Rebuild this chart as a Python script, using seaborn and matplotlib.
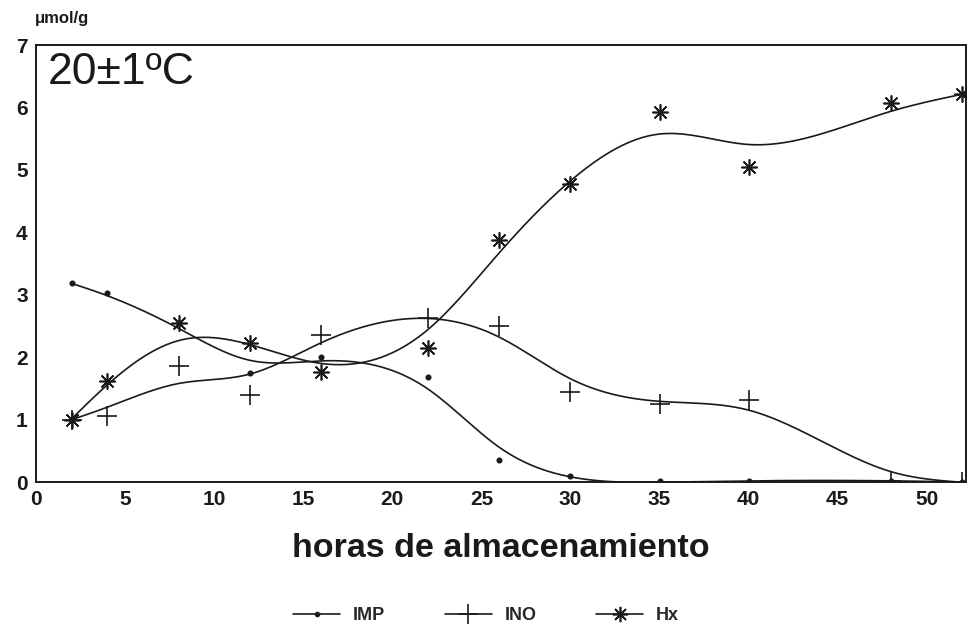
import numpy as np
import pandas as pd
import matplotlib
matplotlib.use("Agg")
import matplotlib.pyplot as plt
from matplotlib.lines import Line2D
import seaborn as sns

# Storage time (hours) and nucleotide catabolite content (umol/g)
horas = [2, 4, 8, 12, 16, 22, 26, 30, 35, 40, 48, 52]
imp = [3.18, 3.03, 2.55, 1.75, 2.01, 1.68, 0.36, 0.10, 0.02, 0.02, 0.02, 0.0]
ino = [1.00, 1.06, 1.86, 1.40, 2.36, 2.62, 2.50, 1.45, 1.25, 1.31, 0.02, 0.0]
hx = [1.00, 1.62, 2.55, 2.22, 1.77, 2.14, 3.88, 4.78, 5.93, 5.05, 6.07, 6.21]

series = ["IMP", "INO", "Hx"]
valores = {"IMP": imp, "INO": ino, "Hx": hx}
suavizado = {"IMP": 6.0, "INO": 9.0, "Hx": 14.0}


def smoothing_spline(x, y, lam, step=0.1, end_weight=15.0):
    """Penalised (cubic smoothing spline) fit evaluated on a fine grid,
    pinned more firmly at the first and last observations."""
    x = np.asarray(x, float)
    y = np.asarray(y, float)
    grid = np.arange(x.min(), x.max() + step / 2, step)
    n = grid.size
    w = np.zeros(n)
    target = np.zeros(n)
    idx = np.rint((x - x.min()) / step).astype(int)
    w[idx] = 1.0
    w[idx[0]] = w[idx[-1]] = end_weight
    target[idx] = y
    d2 = np.diff(np.eye(n), 2, axis=0)
    a = np.diag(w) + (lam / step**3) * d2.T @ d2
    z = np.linalg.solve(a, w * target)
    return grid, np.clip(z, 0, None)


puntos = pd.DataFrame(
    [(h, v, s) for s in series for h, v in zip(horas, valores[s])],
    columns=["horas", "valor", "serie"],
)
curvas = []
for s in series:
    gx, gy = smoothing_spline(horas, valores[s], suavizado[s])
    curvas.append(pd.DataFrame({"horas": gx, "valor": gy, "serie": s}))
curvas = pd.concat(curvas, ignore_index=True)

sns.set_style("white")
plt.rcParams["font.family"] = ["Liberation Sans", "DejaVu Sans"]

ink = "#1a1a1a"
fig = plt.figure(figsize=(9.78, 6.34), dpi=100)
ax = fig.add_axes([0.0368, 0.2397, 0.9509, 0.6893])

paleta = {s: ink for s in series}
sns.lineplot(data=curvas, x="horas", y="valor", hue="serie", palette=paleta,
             linewidth=1.2, legend=False, ax=ax, sort=True)

marcadores = {"IMP": "o", "INO": "+", "Hx": (8, 2, 0)}
tamanos = {"IMP": 10, "INO": 200, "Hx": 120}
for s in series:
    sub = puntos[puntos["serie"] == s]
    sns.scatterplot(data=sub, x="horas", y="valor", marker=marcadores[s],
                    s=tamanos[s], color=ink, edgecolor=ink,
                    linewidth=1.2, legend=False, ax=ax, zorder=3)

ax.set_xlim(0, 52.2)
ax.set_ylim(0, 7)
ax.set_xticks(range(0, 51, 5))
ax.set_yticks(range(0, 8))
for sp in ax.spines.values():
    sp.set_color(ink)
    sp.set_linewidth(1.4)
ax.tick_params(direction="in", length=7, width=1.2, color=ink,
               labelsize=15, labelcolor=ink, pad=6)
for lab in ax.get_xticklabels() + ax.get_yticklabels():
    lab.set_fontweight("bold")
ax.set_xlabel("horas de almacenamiento", fontsize=24.5, fontweight="bold",
              color=ink, labelpad=17)
ax.set_ylabel("")

ax.text(0.013, 0.985, "20±1ºC", transform=ax.transAxes, fontsize=32,
        ha="left", va="top", color=ink)
fig.text(0.036, 1 - 18 / 634, "μmol/g", fontsize=12, fontweight="bold",
         ha="left", va="center", color=ink)

handles = [
    Line2D([], [], color=ink, lw=1.2, marker="o", ms=3),
    Line2D([], [], color=ink, lw=1.2, marker="+", ms=14, mew=1.2),
    Line2D([], [], color=ink, lw=1.2, marker=(8, 2, 0), ms=11, mew=1.2),
]
fig.legend(handles, series, loc="center", bbox_to_anchor=(0.497, 1 - 616 / 634),
           ncol=3, frameon=False, handlelength=2.6, handletextpad=0.7,
           columnspacing=3.3, prop={"weight": "bold", "size": 13})

fig.savefig("out.png", dpi=100, facecolor="white")
